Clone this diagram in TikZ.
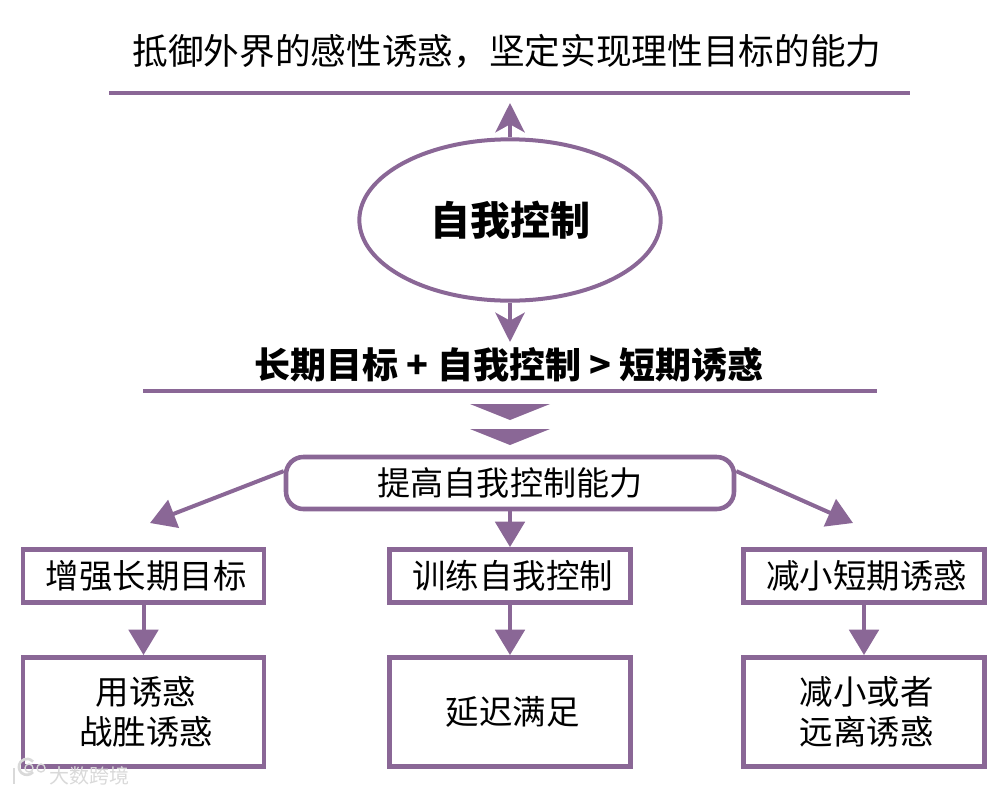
\documentclass[tikz,border=0pt]{standalone}
\usepackage{fontspec}
\setmainfont{Noto Sans CJK SC}
\usetikzlibrary{shapes.geometric}
\usetikzlibrary{arrows.meta}

\definecolor{plum}{HTML}{8A6796}
\newcommand{\nudge}{\hspace*{4pt}}

\tikzset{
    rulebar/.style={draw=plum, line width=3pt},
    linkarrow/.style={draw=plum, line width=3pt, -{Stealth[length=22pt, width=22pt, inset=6pt]}},
    flatarrow/.style={draw=plum, line width=3pt, -{Triangle[length=19pt, width=22pt]}},
    headbox/.style={draw=plum, line width=3.4pt, minimum width=181pt, minimum height=40pt, inner sep=0pt, font=\fontsize{25.1pt}{30pt}\selectfont},
    leafbox/.style={draw=plum, line width=3.4pt, minimum width=181pt, minimum height=82pt, inner sep=0pt, align=center, font=\fontsize{25.1pt}{30pt}\selectfont}
}

\begin{document}
\begin{tikzpicture}[x=0.75pt, y=-0.75pt]
    \useasboundingbox (0,0) rectangle (1003,793);

    \node (title) at (507,51) {\fontsize{26.75pt}{30pt}\selectfont 抵御外界的感性诱惑，坚定实现理性目标的能力};
    \coordinate (topL) at (109,93);
    \coordinate (topR) at (910,93);
    \coordinate (topTip) at (510,103);
    \draw[rulebar] (topL) -- (topR);

    \node[ellipse, draw=plum, line width=3pt, minimum width=226pt, minimum height=121pt, inner sep=0pt] (control) at (510,220)
        {\fontsize{30pt}{32pt}\selectfont\bfseries 自我控制};
    \draw[linkarrow] (control) -- (topTip);

    \node (formula) at (509,365) {\fontsize{27pt}{30pt}\selectfont\bfseries 长期目标 + 自我控制 > 短期诱惑};
    \coordinate (midL) at (143,391);
    \coordinate (midR) at (877,391);
    \coordinate (midTip) at (510,342);
    \draw[rulebar] (midL) -- (midR);
    \draw[linkarrow] (control) -- (midTip);

    % double wedge under the formula
    \foreach \y in {404, 429} {
        \fill[plum] (470,\y) -- (550,\y) -- (510,\y+16) -- cycle;
    }

    \node[draw=plum, line width=3.4pt, rounded corners=13pt, minimum width=336pt, minimum height=39pt, inner sep=0pt,
        font=\fontsize{24.8pt}{30pt}\selectfont] (improve) at (510,483) {提高自我控制能力};

    \node[headbox] (goal) at (143.5,576) {\nudge 增强长期目标};
    \node[headbox] (train) at (510,576) {\nudge 训练自我控制};
    \node[headbox] (reduce) at (864,576) {\nudge 减小短期诱惑};

    \node[leafbox] (beat) at (143.5,712) {\nudge 用诱惑\\\nudge 战胜诱惑};
    \node[leafbox] (delay) at (510,712) {\nudge 延迟满足};
    \node[leafbox] (away) at (864,712) {\nudge 减小或者\\\nudge 远离诱惑};

    \coordinate (leftTip) at (150,523);
    \coordinate (rightTip) at (853,523);
    \draw[flatarrow] (improve.177) -- (leftTip);
    \draw[flatarrow] (improve.south) -- (train.north);
    \draw[flatarrow] (improve.3) -- (rightTip);

    \draw[flatarrow] (goal) -- (beat);
    \draw[flatarrow] (train) -- (delay);
    \draw[flatarrow] (reduce) -- (away);

    % faint mark in the corner
    \node[text=gray!30, font=\fontsize{15pt}{16pt}\selectfont] (mark) at (89,776) {大数跨境};
    \draw[gray!30, line width=2pt] (14,768) -- (14,784);
    \draw[gray!30, line width=2pt] (33,772) arc (40:320:8);
    \draw[gray!30, line width=1pt] (29,768) circle (4) (41,768) circle (4);
\end{tikzpicture}
\end{document}
